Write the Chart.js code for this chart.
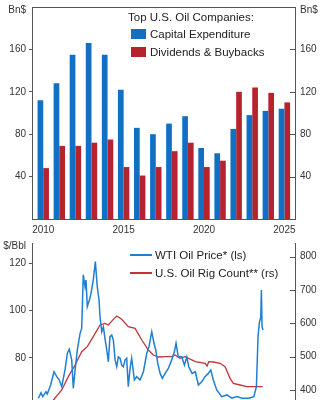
<!DOCTYPE html>
<html lang="en">
<head>
  <meta charset="UTF-8" />
  <title>Top U.S. Oil Companies</title>
  <style>
    * {
      margin: 0;
      padding: 0;
      box-sizing: border-box;
    }

    body {
      width: 324px;
      height: 400px;
      overflow: hidden;
      position: relative;
      background: #fff;
      font-family: 'Liberation Sans', Arial, sans-serif;
      color: #222;
    }

    #barChart { position: absolute; left: 0; top: 0; }
    #lineChart { position: absolute; left: 0; top: 240px; }

    .legend {
      position: absolute;
      font-size: 11.5px;
      line-height: 14px;
      white-space: nowrap;
    }

    .sq { position: absolute; width: 15px; height: 10px; }
    .ln { position: absolute; width: 22px; height: 2px; }
  </style>
</head>
<body>
  <canvas id="barChart" width="324" height="240"></canvas>
  <canvas id="lineChart" width="324" height="160"></canvas>

  <div class="legend" style="left:128px; top:10px">Top U.S. Oil Companies:</div>
  <div class="sq" style="left:131px; top:29px; background:#1270c4"></div>
  <div class="legend" style="left:150px; top:27px">Capital Expenditure</div>
  <div class="sq" style="left:131px; top:47px; background:#b5232e"></div>
  <div class="legend" style="left:150px; top:45px">Dividends &amp; Buybacks</div>

  <div class="ln" style="left:130px; top:254px; background:#1f7fd1"></div>
  <div class="legend" style="left:155px; top:248px">WTI Oil Price* (ls)</div>
  <div class="ln" style="left:130px; top:272px; background:#c1343c"></div>
  <div class="legend" style="left:155px; top:266px">U.S. Oil Rig Count** (rs)</div>

  <script src="https://cdn.jsdelivr.net/npm/chart.js"></script>
  <script>
    // top panel, Bn$
    const years = [2010, 2011, 2012, 2013, 2014, 2015, 2016, 2017, 2018, 2019, 2020, 2021, 2022, 2023, 2024, 2025];
    const capex = [112, 128, 155, 166, 155, 122, 86, 80, 90, 97, 67, 62, 85, 98, 102, 104];
    const payouts = [48, 69, 69, 72, 75, 49, 41, 49, 64, 72, 49, 55, 120, 124, 119, 110];
    const yearTicks = [2010, 2015, 2020, 2025];
    const bnTicks = [40, 80, 120, 160];

    // bottom panel
    const wtiDates = [2009.69, 2009.86, 2009.97, 2010.17, 2010.25, 2010.46, 2010.67, 2010.84, 2011.00, 2011.15,
      2011.35, 2011.50, 2011.62, 2011.77, 2011.87, 2011.98, 2012.12, 2012.29, 2012.39, 2012.49,
      2012.60, 2012.66, 2012.74, 2012.87, 2012.97, 2013.11, 2013.24, 2013.36, 2013.47, 2013.53,
      2013.64, 2013.74, 2013.84, 2013.95, 2014.05, 2014.15, 2014.26, 2014.36, 2014.47, 2014.57,
      2014.67, 2014.78, 2014.88, 2014.98, 2015.09, 2015.19, 2015.29, 2015.40, 2015.50, 2015.67,
      2015.81, 2016.02, 2016.23, 2016.44, 2016.58, 2016.75, 2016.89, 2017.00, 2017.12, 2017.27,
      2017.41, 2017.58, 2017.78, 2017.99, 2018.16, 2018.26, 2018.40, 2018.62, 2018.78, 2018.93,
      2019.05, 2019.26, 2019.46, 2019.65, 2019.86, 2020.06, 2020.27, 2020.42, 2020.58, 2020.79,
      2021.10, 2021.42, 2021.73, 2022.04, 2022.37, 2022.79, 2023.10, 2023.26, 2023.36, 2023.44,
      2023.53, 2023.57, 2023.61, 2023.67];
    const wtiPrice = [63.0, 65.3, 63.7, 65.8, 64.8, 68.6, 74.2, 72.1, 70.7, 67.9,
      74.9, 82.0, 83.7, 79.2, 67.2, 74.9, 83.4, 90.4, 92.5, 115.1,
      110.1, 112.9, 101.7, 104.5, 107.3, 112.9, 120.7, 110.1, 104.5, 97.4,
      91.1, 93.2, 88.3, 83.4, 78.4, 89.0, 89.7, 87.6, 79.2, 76.3,
      80.5, 79.9, 77.0, 76.3, 79.2, 79.9, 67.9, 75.6, 79.9, 70.7,
      72.1, 70.7, 74.2, 82.0, 84.8, 91.1, 86.2, 83.4, 77.8, 73.5,
      71.4, 73.5, 75.6, 79.2, 82.7, 86.2, 80.5, 80.5, 77.0, 80.5,
      76.3, 73.5, 74.2, 68.6, 70.0, 72.1, 73.5, 74.9, 70.7, 66.5,
      63.7, 64.4, 63.0, 63.7, 63.0, 63.0, 63.7, 67.9, 89.0, 94.7,
      97.4, 108.7, 93.2, 91.8];
    const rigDates = [2010.11, 2010.63, 2011.15, 2011.56, 2011.98, 2012.39, 2012.74, 2013.11, 2013.53, 2013.84,
      2014.05, 2014.36, 2014.57, 2014.88, 2015.29, 2015.71, 2016.13, 2016.54, 2016.85, 2017.16,
      2017.58, 2017.99, 2018.20, 2018.51, 2018.82, 2019.46, 2020.08, 2020.19, 2020.30, 2020.58,
      2021.00, 2021.31, 2021.62, 2021.83, 2022.24, 2022.66, 2023.18, 2023.64];
    const rigCount = [346, 370, 400, 440, 475, 515, 530, 560, 595, 600,
      595, 612, 622, 612, 590, 585, 550, 520, 505, 499,
      500, 500, 505, 495, 500, 485, 480, 472, 485, 484,
      480, 470, 435, 420, 415, 410, 410, 410];
    const priceTicks = [80, 100, 120];
    const rigTicks = [400, 500, 600, 700, 800];

    const BLUE = '#1270c4';
    const RED = '#b5232e';
    const INK = '#555';
    const X_MIN = 2009.3;
    const X_MAX = 2025.66;
    const BN_UNIT_AT = 197.2;
    const BBL_UNIT_AT = 127.3;

    Chart.defaults.font.family = "'Liberation Sans', Arial, sans-serif";
    Chart.defaults.font.size = 10;
    Chart.defaults.color = '#333';

    const pts = (xs, ys) => xs.map((x, i) => ({ x: x, y: ys[i] }));
    const setTicks = vals => s => { s.ticks = vals.map(v => ({ value: v })); };
    const fixWidth = w => s => { s.width = w; s.paddingTop = 0; s.paddingBottom = 0; };
    const hideAt = v => c => (c.tick && c.tick.value === v ? 'rgba(0,0,0,0)' : INK);

    // right-hand ticks point inward, and the top panel is boxed in
    const frame = {
      id: 'frame',
      afterDraw(chart, args, opts) {
        const ctx = chart.ctx;
        const a = chart.chartArea;
        const r = chart.scales.y2;
        ctx.save();
        ctx.strokeStyle = INK;
        ctx.lineWidth = 1;
        ctx.beginPath();
        if (opts.top) {
          const t = Math.round(a.top) + 0.5;
          ctx.moveTo(a.left, t);
          ctx.lineTo(a.right + 1, t);
        }
        r.ticks.forEach(t => {
          if (t.value === opts.skip) return;
          const y = Math.round(r.getPixelForValue(t.value)) + 0.5;
          ctx.moveTo(r.left - 5, y);
          ctx.lineTo(r.left, y);
        });
        ctx.stroke();
        ctx.restore();
      }
    };

    new Chart(document.getElementById('barChart'), {
      type: 'bar',
      plugins: [frame],
      data: {
        datasets: [
          { label: 'Capital Expenditure', data: pts(years, capex), backgroundColor: BLUE,
            categoryPercentage: 0.71, barPercentage: 1 },
          { label: 'Dividends & Buybacks', data: pts(years, payouts), backgroundColor: RED,
            categoryPercentage: 0.71, barPercentage: 1 }
        ]
      },
      options: {
        responsive: false,
        animation: false,
        layout: { padding: { top: 7, left: 0, right: 0, bottom: 0 } },
        plugins: {
          legend: { display: false },
          tooltip: { enabled: false },
          frame: { top: true, skip: BN_UNIT_AT }
        },
        scales: {
          x: {
            type: 'linear', min: X_MIN, max: X_MAX, offset: false,
            afterBuildTicks: setTicks(yearTicks),
            afterFit: s => { s.height = 21; s.paddingLeft = 0; s.paddingRight = 0; },
            grid: { display: false, drawTicks: false, offset: false },
            border: { color: INK },
            ticks: { padding: 5, callback: v => String(v) }
          },
          y: {
            min: 0, max: 200,
            afterBuildTicks: setTicks([...bnTicks, BN_UNIT_AT]),
            afterFit: fixWidth(32),
            grid: { drawOnChartArea: false, tickLength: 3, color: hideAt(BN_UNIT_AT) },
            border: { color: INK },
            ticks: { padding: 3, callback: v => (v === BN_UNIT_AT ? 'Bn$' : String(v)) }
          },
          y2: {
            position: 'right', min: 0, max: 200,
            afterBuildTicks: setTicks([...bnTicks, BN_UNIT_AT]),
            afterFit: fixWidth(29),
            grid: { drawOnChartArea: false, drawTicks: false },
            border: { color: INK },
            ticks: { padding: 5, callback: v => (v === BN_UNIT_AT ? 'Bn$' : String(v)) }
          }
        }
      }
    });

    new Chart(document.getElementById('lineChart'), {
      type: 'line',
      plugins: [frame],
      data: {
        datasets: [
          { label: 'WTI Oil Price* (ls)', data: pts(wtiDates, wtiPrice), yAxisID: 'y',
            borderColor: '#1f7fd1', borderWidth: 1.5, pointRadius: 0, tension: 0 },
          { label: 'U.S. Oil Rig Count** (rs)', data: pts(rigDates, rigCount), yAxisID: 'y2',
            borderColor: '#c1343c', borderWidth: 1.3, pointRadius: 0, tension: 0 }
        ]
      },
      options: {
        responsive: false,
        animation: false,
        layout: { padding: { top: 3, left: 0, right: 0, bottom: 0 } },
        plugins: {
          legend: { display: false },
          tooltip: { enabled: false },
          frame: { top: false }
        },
        scales: {
          x: { type: 'linear', min: X_MIN, max: X_MAX, display: false },
          y: {
            min: 62.26, max: 128.57,
            afterBuildTicks: setTicks([...priceTicks, BBL_UNIT_AT]),
            afterFit: fixWidth(32),
            grid: { drawOnChartArea: false, tickLength: 3, color: hideAt(BBL_UNIT_AT) },
            border: { color: INK },
            ticks: { padding: 3, callback: v => (v === BBL_UNIT_AT ? '$/Bbl' : String(v)) }
          },
          y2: {
            position: 'right', min: 370, max: 841,
            afterBuildTicks: setTicks(rigTicks),
            afterFit: fixWidth(29),
            grid: { drawOnChartArea: false, drawTicks: false },
            border: { color: INK },
            ticks: { padding: 5, callback: v => String(v) }
          }
        }
      }
    });
  </script>
</body>
</html>
